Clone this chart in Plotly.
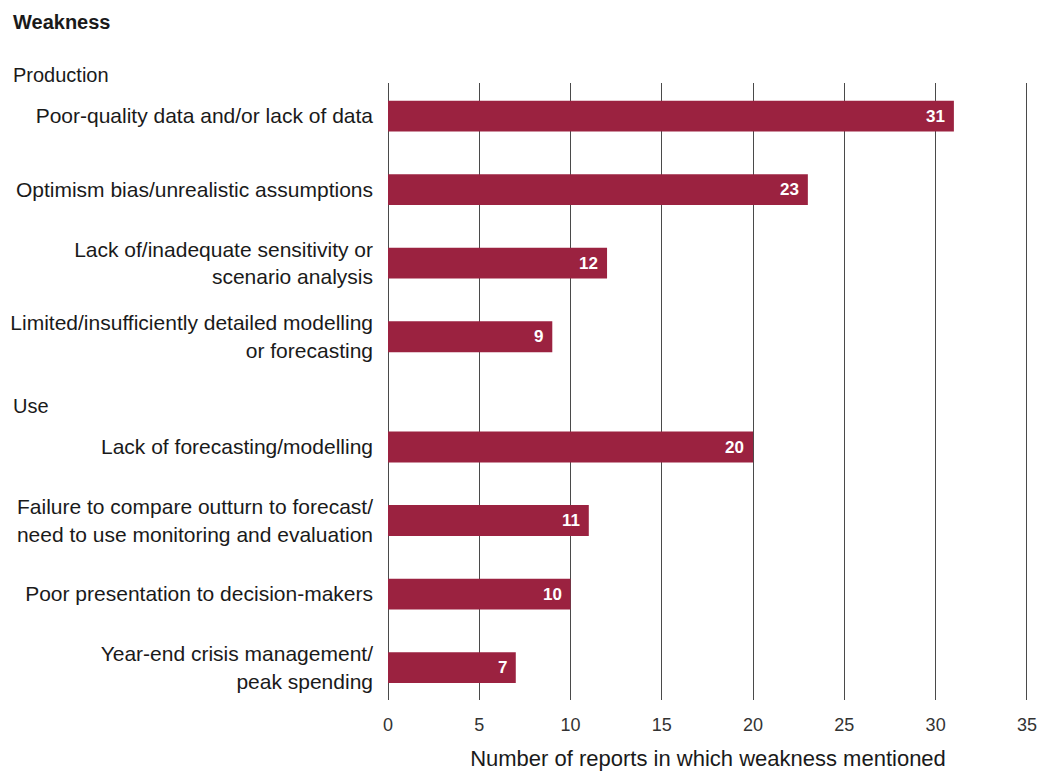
import plotly.graph_objects as go

# Weaknesses grouped by stage, counts of reports mentioning each
production_labels = [
    "Poor-quality data and/or lack of data",
    "Optimism bias/unrealistic assumptions",
    "Lack of/inadequate sensitivity or<br>scenario analysis",
    "Limited/insufficiently detailed modelling<br>or forecasting",
]
production_values = [31, 23, 12, 9]

use_labels = [
    "Lack of forecasting/modelling",
    "Failure to compare outturn to forecast/<br>need to use monitoring and evaluation",
    "Poor presentation to decision-makers",
    "Year-end crisis management/<br>peak spending",
]
use_values = [20, 11, 10, 7]

group_names = ["Production", "Use"]
x_ticks = [0, 5, 10, 15, 20, 25, 30, 35]

BAR = "#9B2240"
GRID = "#4a4a4a"
TEXT = "#1a1a1a"
FONT = "Liberation Sans, Arial, Helvetica, sans-serif"

# lay out the groups on a numeric y axis with a gap before each new group
groups = [(group_names[0], production_labels, production_values),
          (group_names[1], use_labels, use_values)]
ys, labels, values, first_pos = [], [], [], []
pos = 0.0
for gi, (name, labs, vals) in enumerate(groups):
    if gi > 0:
        pos += 0.5
    first_pos.append(pos)
    for lab, val in zip(labs, vals):
        ys.append(pos)
        labels.append(lab)
        values.append(val)
        pos += 1

fig = go.Figure()
fig.add_trace(go.Bar(
    x=values, y=ys, orientation="h",
    marker=dict(color=BAR, line=dict(width=0)),
    width=0.42,
    hoverinfo="skip",
))

annotations = []
for v, y in zip(values, ys):
    annotations.append(dict(
        x=v, y=y, xref="x", yref="y", text=f"<b>{v}</b>",
        showarrow=False, xanchor="right", yanchor="middle", xshift=-7,
        font=dict(family=FONT, size=17, color="white"),
    ))
# group headers sit a fixed distance above the first bar of each group
for name, fp in zip(group_names, first_pos):
    annotations.append(dict(
        x=0, y=fp, xref="paper", yref="y", text=name,
        showarrow=False, xanchor="left", yanchor="middle",
        xshift=-377, yshift=41,
        font=dict(family=FONT, size=20, color=TEXT),
    ))
annotations.append(dict(
    x=0, y=1, xref="paper", yref="paper", text="<b>Weakness</b>",
    showarrow=False, xanchor="left", yanchor="middle",
    xshift=-377, yshift=61,
    font=dict(family=FONT, size=20, color=TEXT),
))

fig.update_layout(
    width=1041, height=771,
    margin=dict(l=388, r=13, t=83, b=71),
    plot_bgcolor="white", paper_bgcolor="white",
    showlegend=False,
    annotations=annotations,
    font=dict(family=FONT, color=TEXT),
    xaxis=dict(
        range=[0, 35.06], tickvals=x_ticks, ticktext=[str(t) for t in x_ticks],
        automargin=False,
        showgrid=True, gridcolor=GRID, gridwidth=1,
        zeroline=True, zerolinecolor=GRID, zerolinewidth=1,
        showline=False, ticks="",
        ticklabelstandoff=12,
        tickfont=dict(family=FONT, size=18, color="#333333"),
        title=dict(text="Number of reports in which weakness mentioned",
                   font=dict(family=FONT, size=22, color=TEXT), standoff=20),
    ),
    yaxis=dict(
        range=[7.94, -0.45], tickvals=ys, ticktext=labels,
        automargin=False,
        showgrid=False, zeroline=False, showline=False, ticks="",
        ticklabelstandoff=14,
        tickfont=dict(family=FONT, size=21, color=TEXT),
    ),
)

fig.write_html("out.html")
